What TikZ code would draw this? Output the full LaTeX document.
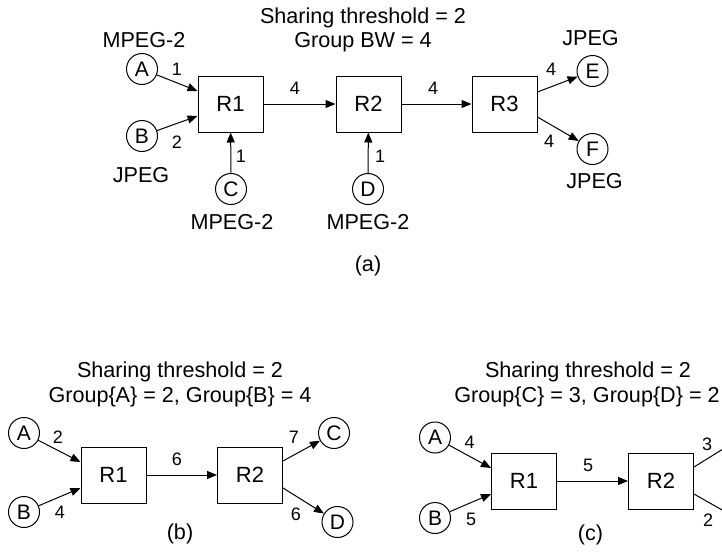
\documentclass[tikz,border=0pt]{standalone}
\usepackage{fontspec}
\setmainfont{Liberation Sans}
\usetikzlibrary{arrows.meta}

\tikzset{
  router/.style={draw, line width=1pt, minimum width=65pt, minimum height=56pt,
                 inner sep=0pt, font=\fontsize{22}{25}\selectfont},
  host/.style={draw, circle, line width=1pt, minimum size=31pt, inner sep=0pt,
               font=\fontsize{21}{24}\selectfont},
  caption/.style={anchor=base, inner sep=0pt, font=\fontsize{21.6}{26}\selectfont},
  bw/.style={anchor=base, inner sep=0pt, font=\fontsize{18}{21}\selectfont},
  link/.style={line width=1pt, -{Triangle[length=10pt,width=8pt]}},
  wire/.style={line width=1pt}
}

\begin{document}
\begin{tikzpicture}[x=1pt, y=-1pt]
  \useasboundingbox (0,0) rectangle (722,552);
  \clip (0,0) rectangle (722,552);

  % ---------------- (a) three routers in a chain ----------------
  \node[caption] (ta1) at (363,23) {Sharing threshold = 2};
  \node[caption] (ta2) at (363,47) {Group BW = 4};

  \node[router] (aR1) at (230.5,104) {R1};
  \node[router] (aR2) at (368.5,104) {R2};
  \node[router] (aR3) at (504.5,104) {R3};

  \node[host] (aA) at (142,69) {A};
  \node[host] (aB) at (142,136) {B};
  \node[host] (aC) at (231,189) {C};
  \node[host] (aD) at (368,189) {D};
  \node[host] (aE) at (592.5,71) {E};
  \node[host] (aF) at (592.5,149) {F};

  \node[caption] (tAm) at (144,47) {MPEG-2};
  \node[caption] (tBj) at (141,182) {JPEG};
  \node[caption] (tCm) at (232,229) {MPEG-2};
  \node[caption] (tDm) at (368,229) {MPEG-2};
  \node[caption] (tEj) at (590.5,45) {JPEG};
  \node[caption] (tFj) at (594.5,188) {JPEG};
  \node[caption] (capa) at (368,271) {(a)};

  \draw[link] (aA) -- ([yshift=13pt]aR1.west);
  \draw[link] (aB) -- ([yshift=-12pt]aR1.west);
  \draw[link] (aC) -- (aR1);
  \draw[link] (aD) -- (aR2);
  \draw[link] (aR1) -- (aR2);
  \draw[link] (aR2) -- (aR3);
  \draw[link] ([yshift=12pt]aR3.east) -- (aE);
  \draw[link] ([yshift=-13pt]aR3.east) -- (aF);

  \node[bw] at (177,75) {1};
  \node[bw] at (177,148) {2};
  \node[bw] at (241,162) {1};
  \node[bw] at (380,162) {1};
  \node[bw] at (295,94) {4};
  \node[bw] at (433,94) {4};
  \node[bw] at (551,75) {4};
  \node[bw] at (549,147) {4};

  % ---------------- (b) two routers, groups per source ----------------
  \node[caption] (tb1) at (180,377) {Sharing threshold = 2};
  \node[caption] (tb2) at (180,402) {Group\{A\} = 2, Group\{B\} = 4};

  \node[router] (bR1) at (113.5,475) {R1};
  \node[router] (bR2) at (250,475) {R2};

  \node[host] (bA) at (24,433) {A};
  \node[host] (bB) at (24,512) {B};
  \node[host] (bC) at (334,433) {C};
  \node[host] (bD) at (337.5,522) {D};

  \draw[link] (bA) -- ([yshift=13pt]bR1.west);
  \draw[link] (bB) -- ([yshift=-13pt]bR1.west);
  \draw[link] (bR1) -- (bR2);
  \draw[link] ([yshift=14pt]bR2.east) -- (bC);
  \draw[link] ([yshift=-13pt]bR2.east) -- (bD);

  \node[bw] at (58,443) {2};
  \node[bw] at (60,518) {4};
  \node[bw] at (177,465) {6};
  \node[bw] at (294,443) {7};
  \node[bw] at (296,520) {6};
  \node[caption] (capb) at (180,539) {(b)};

  % ---------------- (c) two routers, groups per receiver ----------------
  \node[caption] (tc1) at (588,377) {Sharing threshold = 2};
  \node[caption] (tc2) at (587,402) {Group\{C\} = 3, Group\{D\} = 2};

  \node[router] (cR1) at (524,481) {R1};
  \node[router] (cR2) at (661,481) {R2};

  \node[host] (cA) at (435,437.5) {A};
  \node[host] (cB) at (435,518) {B};
  \coordinate (cCdir) at (752,431);
  \coordinate (cDdir) at (752,527);

  \draw[link] (cA) -- ([yshift=13pt]cR1.west);
  \draw[link] (cB) -- ([yshift=-13pt]cR1.west);
  \draw[link] (cR1) -- (cR2);
  \draw[wire] ([yshift=14pt]cR2.east) -- (cCdir);
  \draw[wire] ([yshift=-13pt]cR2.east) -- (cDdir);

  \node[bw] at (469.5,448) {4};
  \node[bw] at (471,525) {5};
  \node[bw] at (588,471) {5};
  \node[bw] at (707,450) {3};
  \node[bw] at (708,526) {2};
  \node[caption] (capc) at (590.5,540) {(c)};
\end{tikzpicture}
\end{document}
